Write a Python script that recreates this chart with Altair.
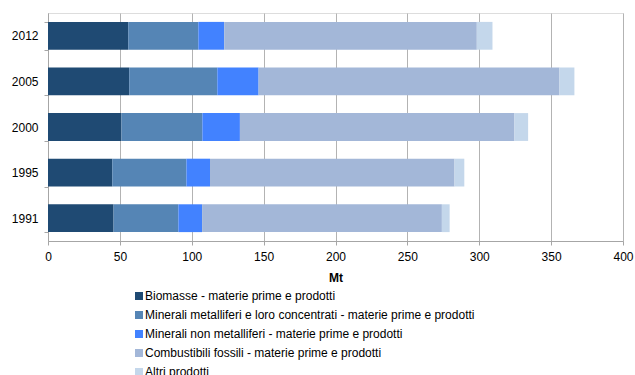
import altair as alt
import pandas as pd

years = ["2012", "2005", "2000", "1995", "1991"]
categories = [
    "Biomasse - materie prime e prodotti",
    "Minerali metalliferi e loro concentrati - materie prime e prodotti",
    "Minerali non metalliferi - materie prime e prodotti",
    "Combustibili fossili - materie prime e prodotti",
    "Altri prodotti",
]
biomasse = [55.8, 56.5, 51.1, 44.7, 45.6]
metalliferi = [48.8, 61.3, 56.3, 51.6, 45.1]
non_metalliferi = [18.0, 28.7, 26.1, 16.4, 16.5]
fossili = [175.7, 209.3, 191.0, 170.1, 166.8]
altri = [10.9, 10.4, 9.5, 6.8, 5.4]
colors = ["#1F4A73", "#5585B5", "#4282FF", "#A3B7D8", "#C4D7EB"]

series = [biomasse, metalliferi, non_metalliferi, fossili, altri]
rows = []
for ci, (cat, vals) in enumerate(zip(categories, series)):
    for y, v in zip(years, vals):
        rows.append({"Anno": y, "Categoria": cat, "Valore": v, "ord": ci})
df = pd.DataFrame(rows)

chart = alt.Chart(df).mark_bar(stroke=None).encode(
    y=alt.Y("Anno:N", sort=years,
            scale=alt.Scale(paddingInner=0.39, paddingOuter=0.195),
            axis=alt.Axis(title=None, labelFontSize=12, labelColor="#000000",
                          labelFont="Liberation Sans", domainColor="#A6A6A6",
                          tickColor="#A6A6A6", tickSize=4, tickBand="extent",
                          labelPadding=6, grid=False)),
    x=alt.X("Valore:Q", stack="zero",
            scale=alt.Scale(domain=[0, 400], nice=False),
            axis=alt.Axis(title="Mt", values=[0, 50, 100, 150, 200, 250, 300, 350, 400],
                          labelFontSize=12, labelColor="#000000", labelFont="Liberation Sans",
                          labelFlush=False, labelBound=False,
                          titleFont="Liberation Sans", titleFontSize=12, titleFontWeight="bold",
                          titleColor="#000000", titlePadding=10,
                          domainColor="#A6A6A6", tickColor="#A6A6A6", tickSize=4,
                          gridColor="#B3B3B3", gridWidth=1, labelPadding=6)),
    color=alt.Color("Categoria:N", sort=categories,
                    scale=alt.Scale(domain=categories, range=colors),
                    legend=alt.Legend(title=None, orient="none", legendX=85, legendY=277,
                                      direction="vertical", symbolType="square",
                                      symbolSize=64, symbolStrokeWidth=0,
                                      labelFontSize=12, labelFont="Liberation Sans",
                                      labelColor="#000000", labelOffset=0,
                                      rowPadding=7, padding=0, labelLimit=500)),
    order=alt.Order("ord:Q"),
).properties(
    width=575, height=228,
    autosize=alt.AutoSizeParams(type="none"),
    padding={"left": 48, "top": 13, "right": 12, "bottom": 134},
).configure_view(stroke=None).configure(background="#FFFFFF")

chart.save("out.html", embed_options={"renderer": "svg", "actions": False})
